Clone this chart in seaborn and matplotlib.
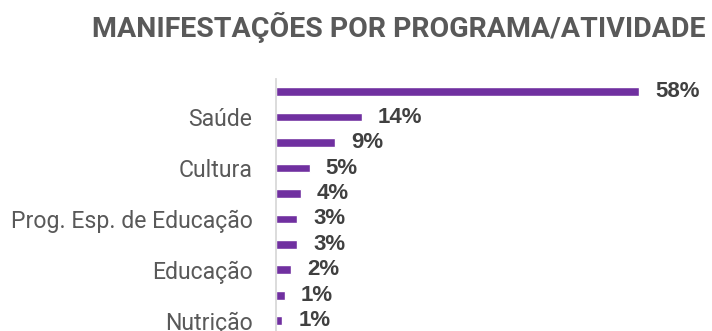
import numpy as np
import pandas as pd
import matplotlib
matplotlib.use("Agg")
import matplotlib.pyplot as plt
import seaborn as sns

# Share of complaints by programme/activity (%), largest first
values = [58.0, 13.7, 9.4, 5.4, 4.0, 3.4, 3.4, 2.4, 1.4, 1.0]
# Only every other category name is printed on the axis
tick_labels = ["", "Saúde", "", "Cultura", "", "Prog. Esp. de Educação",
               "", "Educação", "", "Nutrição"]
title = "MANIFESTAÇÕES POR PROGRAMA/ATIVIDADE"

bar_color = "#7030A0"

sns.set_theme(style="white")
plt.rcParams["font.family"] = ["Roboto", "DejaVu Sans"]

df = pd.DataFrame({"pos": np.arange(len(values)), "pct": values})

fig = plt.figure(figsize=(7.12, 3.31), dpi=100)
ax = fig.add_axes([276 / 712, 1 - 333.4 / 331, 438 / 712, 254.4 / 331])

sns.barplot(data=df, x="pct", y="pos", orient="h", color=bar_color,
            width=0.34, saturation=1, ax=ax)

ax.set_xlim(0, 70)
ax.set_ylim(len(values) - 0.5, -0.5)
ax.set_yticks(range(len(values)))
ax.set_yticklabels(tick_labels, fontsize=16.6, color="#595959")
ax.tick_params(axis="y", length=0, pad=17)
ax.set_xticks([])
ax.set_xlabel("")
ax.set_ylabel("")

for side in ["top", "right", "bottom"]:
    ax.spines[side].set_visible(False)
ax.spines["left"].set_color("#D9D9D9")
ax.spines["left"].set_linewidth(1.3)

for cont in ax.containers:
    ax.bar_label(cont, labels=[f"{v:.0f}%" for v in values], padding=11.5,
                 fontsize=16, fontweight="bold", color="#404040",
                 family=["Liberation Sans", "DejaVu Sans"])

fig.text(399 / 712, 1 - 27 / 331, title, ha="center", va="center",
         fontsize=20.5, fontweight="bold", color="#595959")

fig.savefig("out.png", dpi=100)
